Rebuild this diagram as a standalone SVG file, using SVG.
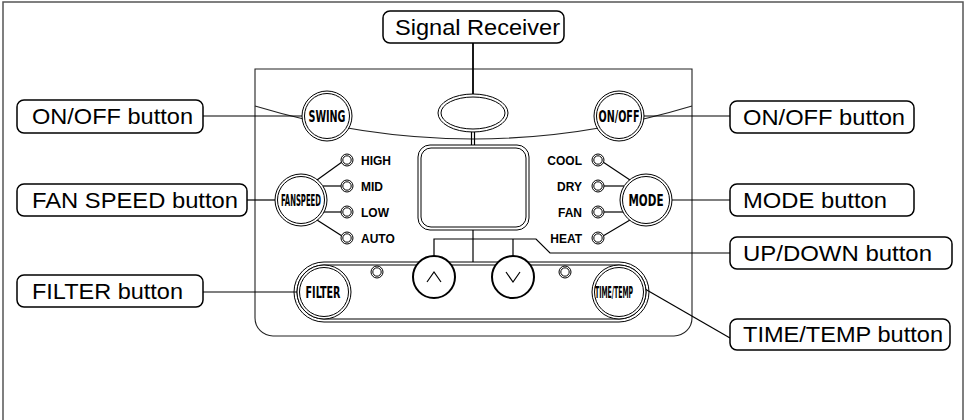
<svg xmlns="http://www.w3.org/2000/svg" width="966" height="420" viewBox="0 0 966 420">
<style>
.ln{fill:none;stroke:#000;stroke-width:1.2}
.thk{fill:none;stroke:#000;stroke-width:1.8}
.pn{fill:none;stroke:#222;stroke-width:1.1}
.ring{fill:#fff;stroke:#000;stroke-width:1}
.lbl{fill:#fff;stroke:#000;stroke-width:1.5}
.lt{font-family:"Liberation Sans",Arial,sans-serif;font-size:22px;fill:#000}
.bt{font-family:"Liberation Sans Narrow","DejaVu Sans Condensed","Liberation Sans",sans-serif;font-weight:bold;font-size:16px;fill:#000}
.led{font-family:"Liberation Sans",Arial,sans-serif;font-weight:bold;font-size:12px;fill:#000}
</style>
<defs>
<g id="led"><circle r="6" class="ring"/><circle r="4.2" class="ring"/></g>
</defs>
<rect x="3" y="2" width="960" height="430" fill="#fff" stroke="#555" stroke-width="1.5"/>

<g id="panel">
<path class="pn" d="M255,69 H692 V318 A18,18 0 0 1 674,336 H273 A18,18 0 0 1 255,318 Z"/>
<path class="pn" d="M255,106 Q473,172 692,106"/>
<rect class="ring" x="294" y="262" width="355" height="60" rx="30"/>
<rect class="ring" x="297" y="265" width="349" height="54" rx="27"/>
</g>

<g id="connectors">
<line class="thk" x1="473" y1="43" x2="473" y2="94"/>
<line class="ln" x1="471.5" y1="132" x2="471.5" y2="145"/>
<line class="ln" x1="474.5" y1="132" x2="474.5" y2="145"/>
<line class="ln" x1="473" y1="230" x2="473" y2="262"/>
<polyline class="ln" points="434,256 434,239 536,239 550,253 730,253"/>
<line class="ln" x1="513" y1="239" x2="513" y2="256"/>
<line class="ln" x1="203" y1="116" x2="302" y2="116"/>
<line class="ln" x1="644" y1="116" x2="730" y2="116"/>
<line class="ln" x1="247" y1="200" x2="275" y2="200"/>
<line class="ln" x1="672" y1="200" x2="730" y2="200"/>
<line class="ln" x1="203" y1="292" x2="297" y2="292"/>
<line class="ln" x1="645" y1="289" x2="730" y2="338"/>
<line class="ln" x1="317" y1="180" x2="342" y2="162"/>
<line class="ln" x1="323" y1="186" x2="341" y2="186"/>
<line class="ln" x1="324" y1="212" x2="341" y2="212"/>
<line class="ln" x1="317" y1="220" x2="342" y2="236"/>
<line class="ln" x1="630" y1="180" x2="603" y2="162"/>
<line class="ln" x1="624" y1="186" x2="604" y2="186"/>
<line class="ln" x1="623" y1="212" x2="604" y2="212"/>
<line class="ln" x1="630" y1="220" x2="603" y2="236"/>
</g>

<g id="signal-receiver-sensor">
<ellipse cx="473" cy="113" rx="35" ry="19" class="ring"/>
<ellipse cx="473" cy="113" rx="32" ry="16" class="ring"/>
</g>
<g id="display">
<rect x="418" y="145" width="111" height="85" rx="12" class="ring"/>
<rect x="421" y="148" width="105" height="79" rx="10" class="ring"/>
</g>

<g id="swing-btn">
<circle cx="327" cy="116" r="25" class="ring"/><circle cx="327" cy="116" r="22.5" class="ring"/>
<text class="bt" x="327" y="122" text-anchor="middle" textLength="37" lengthAdjust="spacingAndGlyphs">SWING</text>
</g>
<g id="onoff-btn">
<circle cx="619" cy="116" r="25" class="ring"/><circle cx="619" cy="116" r="22.5" class="ring"/>
<text class="bt" x="619" y="122" text-anchor="middle" textLength="41" lengthAdjust="spacingAndGlyphs">ON/OFF</text>
</g>
<g id="fanspeed-btn">
<circle cx="301" cy="200" r="26" class="ring"/><circle cx="301" cy="200" r="23.5" class="ring"/>
<text class="bt" x="301" y="206" text-anchor="middle" textLength="40" lengthAdjust="spacingAndGlyphs">FANSPEED</text>
</g>
<g id="mode-btn">
<circle cx="646" cy="200" r="26" class="ring"/><circle cx="646" cy="200" r="23.5" class="ring"/>
<text class="bt" x="646" y="206" text-anchor="middle" textLength="35" lengthAdjust="spacingAndGlyphs">MODE</text>
</g>
<g id="filter-btn">
<circle cx="324" cy="292" r="27" class="ring"/><circle cx="324" cy="292" r="24.5" class="ring"/>
<text class="bt" x="323" y="298" text-anchor="middle" textLength="35" lengthAdjust="spacingAndGlyphs">FILTER</text>
</g>
<g id="timetemp-btn">
<circle cx="619" cy="292" r="27" class="ring"/><circle cx="619" cy="292" r="24.5" class="ring"/>
<text class="bt" x="614" y="298" text-anchor="middle" textLength="38" lengthAdjust="spacingAndGlyphs">TIME/TEMP</text>
</g>
<g id="up-btn">
<circle cx="434" cy="277" r="21" fill="#fff" stroke="#000" stroke-width="2"/>
<polyline class="ln" points="427,282 434,272 441,282"/>
</g>
<g id="down-btn">
<circle cx="513" cy="277" r="21" fill="#fff" stroke="#000" stroke-width="2"/>
<polyline class="ln" points="506,272 513,282 520,272"/>
</g>

<g id="leds">
<use href="#led" x="347" y="160"/><use href="#led" x="347" y="186"/><use href="#led" x="347" y="212"/><use href="#led" x="347" y="238"/>
<use href="#led" x="598" y="160"/><use href="#led" x="598" y="186"/><use href="#led" x="598" y="212"/><use href="#led" x="598" y="238"/>
<use href="#led" x="377" y="272"/><use href="#led" x="565" y="272"/>
<text class="led" x="361" y="164.5">HIGH</text>
<text class="led" x="361" y="190.5">MID</text>
<text class="led" x="361" y="216.5">LOW</text>
<text class="led" x="361" y="242.5">AUTO</text>
<text class="led" x="582" y="164.5" text-anchor="end">COOL</text>
<text class="led" x="582" y="190.5" text-anchor="end">DRY</text>
<text class="led" x="582" y="216.5" text-anchor="end">FAN</text>
<text class="led" x="582" y="242.5" text-anchor="end">HEAT</text>
</g>

<g id="lbl-signal"><rect class="lbl" x="383" y="11" width="181" height="32" rx="7"/><text class="lt" x="395" y="35" textLength="165" lengthAdjust="spacingAndGlyphs">Signal Receiver</text></g>
<g id="lbl-onoff-left"><rect class="lbl" x="17" y="100" width="186" height="33" rx="7"/><text class="lt" x="32" y="124" textLength="161" lengthAdjust="spacingAndGlyphs">ON/OFF button</text></g>
<g id="lbl-fanspeed"><rect class="lbl" x="17" y="184" width="230" height="32" rx="7"/><text class="lt" x="32" y="208" textLength="206" lengthAdjust="spacingAndGlyphs">FAN SPEED button</text></g>
<g id="lbl-filter"><rect class="lbl" x="17" y="275" width="186" height="32" rx="7"/><text class="lt" x="32" y="299" textLength="151" lengthAdjust="spacingAndGlyphs">FILTER button</text></g>
<g id="lbl-onoff-right"><rect class="lbl" x="730" y="101" width="184" height="32" rx="7"/><text class="lt" x="743" y="125" textLength="162" lengthAdjust="spacingAndGlyphs">ON/OFF button</text></g>
<g id="lbl-mode"><rect class="lbl" x="730" y="184" width="184" height="32" rx="7"/><text class="lt" x="743" y="208" textLength="144" lengthAdjust="spacingAndGlyphs">MODE button</text></g>
<g id="lbl-updown"><rect class="lbl" x="730" y="237" width="222" height="32" rx="7"/><text class="lt" x="743" y="261" textLength="189" lengthAdjust="spacingAndGlyphs">UP/DOWN button</text></g>
<g id="lbl-timetemp"><rect class="lbl" x="730" y="319" width="220" height="31" rx="7"/><text class="lt" x="743" y="342" textLength="200" lengthAdjust="spacingAndGlyphs">TIME/TEMP button</text></g>
</svg>
